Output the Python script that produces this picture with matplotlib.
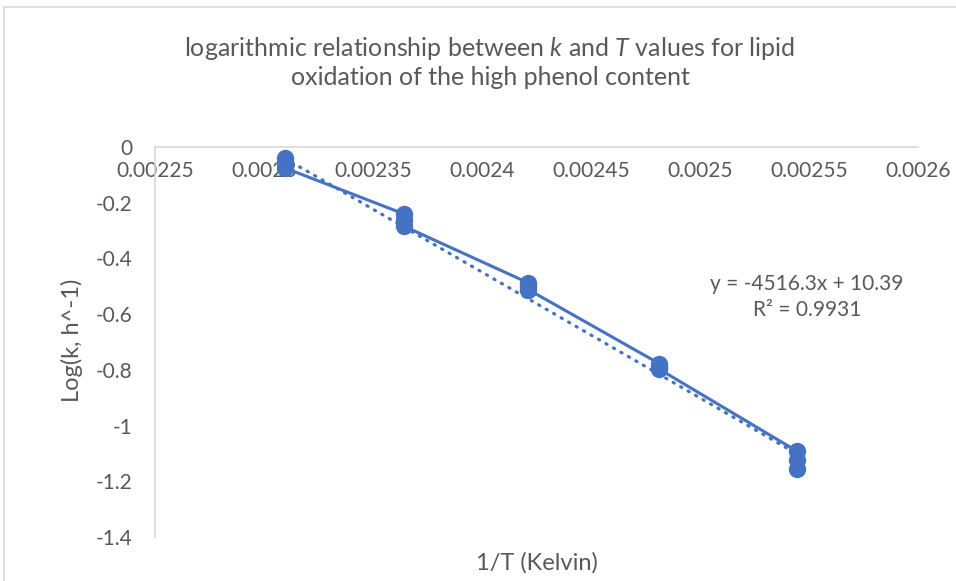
import numpy as np
import matplotlib
matplotlib.use("Agg")
import matplotlib.pyplot as plt
from matplotlib.patches import Rectangle

plt.rcParams['font.family'] = ['Lato', 'DejaVu Sans']
plt.rcParams['mathtext.fontset'] = 'custom'
plt.rcParams['mathtext.rm'] = 'Lato'
plt.rcParams['mathtext.it'] = 'Lato:italic'

# 1/T values (three replicates per temperature) and log(k)
inv_T = [0.0023095, 0.0023095, 0.0023095,
         0.0023641, 0.0023641, 0.0023641,
         0.0024213, 0.0024213, 0.0024213,
         0.0024814, 0.0024814, 0.0024814,
         0.0025445, 0.0025445, 0.0025445]
log_k = [-0.040, -0.057, -0.075,
         -0.240, -0.262, -0.284,
         -0.488, -0.500, -0.512,
         -0.778, -0.788, -0.798,
         -1.092, -1.124, -1.156]

slope = -4516.3
intercept = 10.39
r2 = 0.9931

x_ticks = [0.00225, 0.0023, 0.00235, 0.0024, 0.00245, 0.0025, 0.00255, 0.0026]
x_tick_labels = ["0.00225", "0.0023", "0.00235", "0.0024", "0.00245", "0.0025", "0.00255", "0.0026"]
y_ticks = [0, -0.2, -0.4, -0.6, -0.8, -1, -1.2, -1.4]
y_tick_labels = ["0", "-0.2", "-0.4", "-0.6", "-0.8", "-1", "-1.2", "-1.4"]

blue = "#4472C4"
grey_txt = "#595959"
grey_line = "#D9D9D9"

fig = plt.figure(figsize=(9.56, 5.81), dpi=100, facecolor="white")
# рамка области диаграммы
fig.patches.append(Rectangle((4 / 956, -0.1), 1.2, 1.1 - 7 / 581, transform=fig.transFigure,
                             fill=False, edgecolor=grey_line, linewidth=1.2))

ax = fig.add_axes([155 / 956, 1 - 537 / 581, 763 / 956, 390 / 581])
ax.set_xlim(0.00225, 0.0026)
ax.set_ylim(-1.4, 0)

ax.plot(inv_T, log_k, color=blue, linewidth=2.2, marker="o", markersize=11.5, zorder=3)

xt = np.array([min(inv_T), max(inv_T)])
ax.plot(xt, slope * xt + intercept, color=blue, linewidth=2.3, linestyle=(0, (0.4, 2.3)),
        dash_capstyle="round", zorder=3)

ax.text(0.002549, -0.538, f"y = {slope}x + {intercept}\nR² = {r2}", ha="center", va="center",
        fontsize=15, color=grey_txt, linespacing=1.35)

ax.spines['top'].set_visible(False)
ax.spines['right'].set_visible(False)
ax.spines['bottom'].set_position(('data', 0))
ax.spines['bottom'].set_color(grey_line)
ax.spines['left'].set_color(grey_line)
ax.spines['bottom'].set_linewidth(1.2)
ax.spines['left'].set_linewidth(1.2)

ax.set_xticks(x_ticks)
ax.set_xticklabels(x_tick_labels)
ax.set_yticks(y_ticks)
ax.set_yticklabels(y_tick_labels)
ax.tick_params(axis='x', length=0, pad=10, labelsize=15, labelcolor=grey_txt)
ax.tick_params(axis='y', length=0, pad=16, labelsize=15, labelcolor=grey_txt)

fig.text(490 / 956, 1 - 62 / 581,
         "logarithmic relationship between $\\mathit{k}$ and $\\mathit{T}$ values for lipid\n"
         "oxidation of the high phenol content",
         ha="center", va="center", fontsize=18, color=grey_txt, linespacing=1.2)
fig.text(537 / 956, 1 - 563 / 581, "1/T (Kelvin)", ha="center", va="center",
         fontsize=17, color=grey_txt)
fig.text(72 / 956, 1 - 340 / 581, "Log(k, h^-1)", ha="center", va="center", rotation=90,
         fontsize=17, color=grey_txt)

fig.savefig("out.png", dpi=100, facecolor="white")
